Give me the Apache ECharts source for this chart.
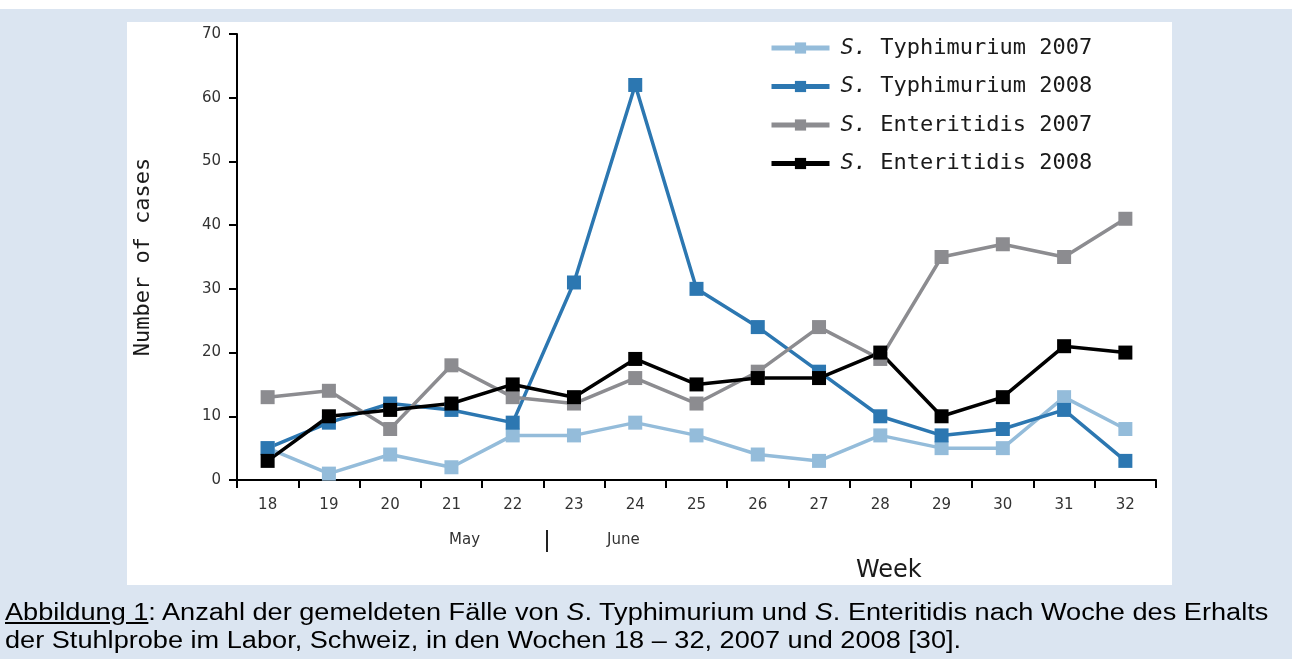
<!DOCTYPE html>
<html>
<head>
<meta charset="utf-8">
<script src="https://cdn.jsdelivr.net/npm/echarts@6/dist/echarts.min.js"></script>
<style>
  html, body { margin: 0; padding: 0; background: #fff; }
  #page { position: relative; width: 1292px; height: 659px; overflow: hidden; }
  #band { position: absolute; left: 0; top: 9px; width: 1292px; height: 650px; background: #dbe5f1; }
  #panel { position: absolute; left: 127px; top: 22px; width: 1045px; height: 563px; background: #fff; }
  #chart { position: absolute; left: 0; top: 0; width: 1292px; height: 659px; }
  #caption { position: absolute; left: 5px; top: 598px; font-family: "Liberation Sans", Arial, sans-serif;
             font-size: 23px; line-height: 28px; color: #000; white-space: nowrap;
             transform: scaleX(1.18); transform-origin: 0 0; }
  #caption u { text-underline-offset: 2px; }
</style>
</head>
<body>
<div id="page">
  <div id="band"></div>
  <div id="panel"></div>
  <div id="chart"></div>
  <div id="caption"><u>Abbildung 1</u>: Anzahl der gemeldeten Fälle von <i>S</i>. Typhimurium und <i>S</i>. Enteritidis nach Woche des Erhalts<br>der Stuhlprobe im Labor, Schweiz, in den Wochen 18 – 32, 2007 und 2008 [30].</div>
</div>
<script>
const weeks = ['18','19','20','21','22','23','24','25','26','27','28','29','30','31','32'];
const typhi2007 = [5, 1, 4, 2, 7, 7, 9, 7, 4, 3, 7, 5, 5, 13, 8];
const typhi2008 = [5, 9, 12, 11, 9, 31, 62, 30, 24, 17, 10, 7, 8, 11, 3];
const enter2007 = [13, 14, 8, 18, 13, 12, 16, 12, 17, 24, 19, 35, 37, 35, 41];
const enter2008 = [3, 10, 11, 12, 15, 13, 19, 15, 16, 16, 20, 10, 13, 21, 20];

const SANS = '"DejaVu Sans", sans-serif';
const MONO = '"DejaVu Sans Mono", monospace';

function mkSeries(name, data, color) {
    return {
        name: name,
        type: 'line',
        data: data,
        symbol: 'rect',
        symbolSize: 14,
        showSymbol: true,
        lineStyle: { color: color, width: 3.5 },
        itemStyle: { color: color },
        emphasis: { disabled: true },
        animation: false
    };
}

const chart = echarts.init(document.getElementById('chart'));
const option = {
    backgroundColor: 'transparent',
    animation: false,
    grid: { left: 237, right: 136, top: 34, bottom: 179, containLabel: false, outerBoundsMode: 'none' },
    legend: {
        left: 764,
        top: 32,
        orient: 'vertical',
        itemWidth: 58,
        itemHeight: 14,
        itemGap: 16.5,
        lineStyle: { width: 5 },
        itemStyle: { borderWidth: 0 },
        textStyle: {
            fontFamily: MONO, fontSize: 22, color: '#1a1a1a', padding: [0, 0, 0, 6],
            rich: { i: { fontFamily: MONO, fontSize: 22, fontStyle: 'italic', color: '#1a1a1a' } }
        },
        formatter: function (n) { return '{i|S.} ' + n.replace(/^S\. /, ''); },
        data: ['S. Typhimurium 2007', 'S. Typhimurium 2008', 'S. Enteritidis 2007', 'S. Enteritidis 2008']
    },
    xAxis: {
        type: 'category',
        data: weeks,
        boundaryGap: true,
        axisLine: { lineStyle: { color: '#000', width: 2 } },
        axisTick: { show: true, alignWithLabel: false, length: 8, lineStyle: { color: '#000', width: 2 } },
        axisLabel: { fontFamily: SANS, fontSize: 15, color: '#333', margin: 18 },
        splitLine: { show: false }
    },
    yAxis: {
        type: 'value',
        min: 0,
        max: 70,
        interval: 10,
        name: 'Number of cases',
        nameLocation: 'middle',
        nameGap: 83,
        nameRotate: 90,
        nameTextStyle: { fontFamily: MONO, fontSize: 22, color: '#1a1a1a' },
        axisLine: { show: true, lineStyle: { color: '#000', width: 2 } },
        axisTick: { show: true, length: 8, lineStyle: { color: '#000', width: 2 } },
        axisLabel: { fontFamily: SANS, fontSize: 15, color: '#333', margin: 16 },
        splitLine: { show: false }
    },
    graphic: [
        { type: 'text', left: 449, top: 533, style: { text: 'May', font: '15px ' + SANS, fill: '#333' } },
        { type: 'line', shape: { x1: 547, y1: 530, x2: 547, y2: 552 }, style: { stroke: '#222', lineWidth: 2 } },
        { type: 'text', left: 607, top: 533, style: { text: 'June', font: '15px ' + SANS, fill: '#333' } },
        { type: 'text', left: 856, top: 559, style: { text: 'Week', font: '24px ' + SANS, fill: '#1a1a1a' } }
    ],
    series: [
        mkSeries('S. Typhimurium 2007', typhi2007, '#94bcda'),
        mkSeries('S. Typhimurium 2008', typhi2008, '#2c77b1'),
        mkSeries('S. Enteritidis 2007', enter2007, '#8c8c90'),
        mkSeries('S. Enteritidis 2008', enter2008, '#000000')
    ]
};
chart.setOption(option);
</script>
</body>
</html>
